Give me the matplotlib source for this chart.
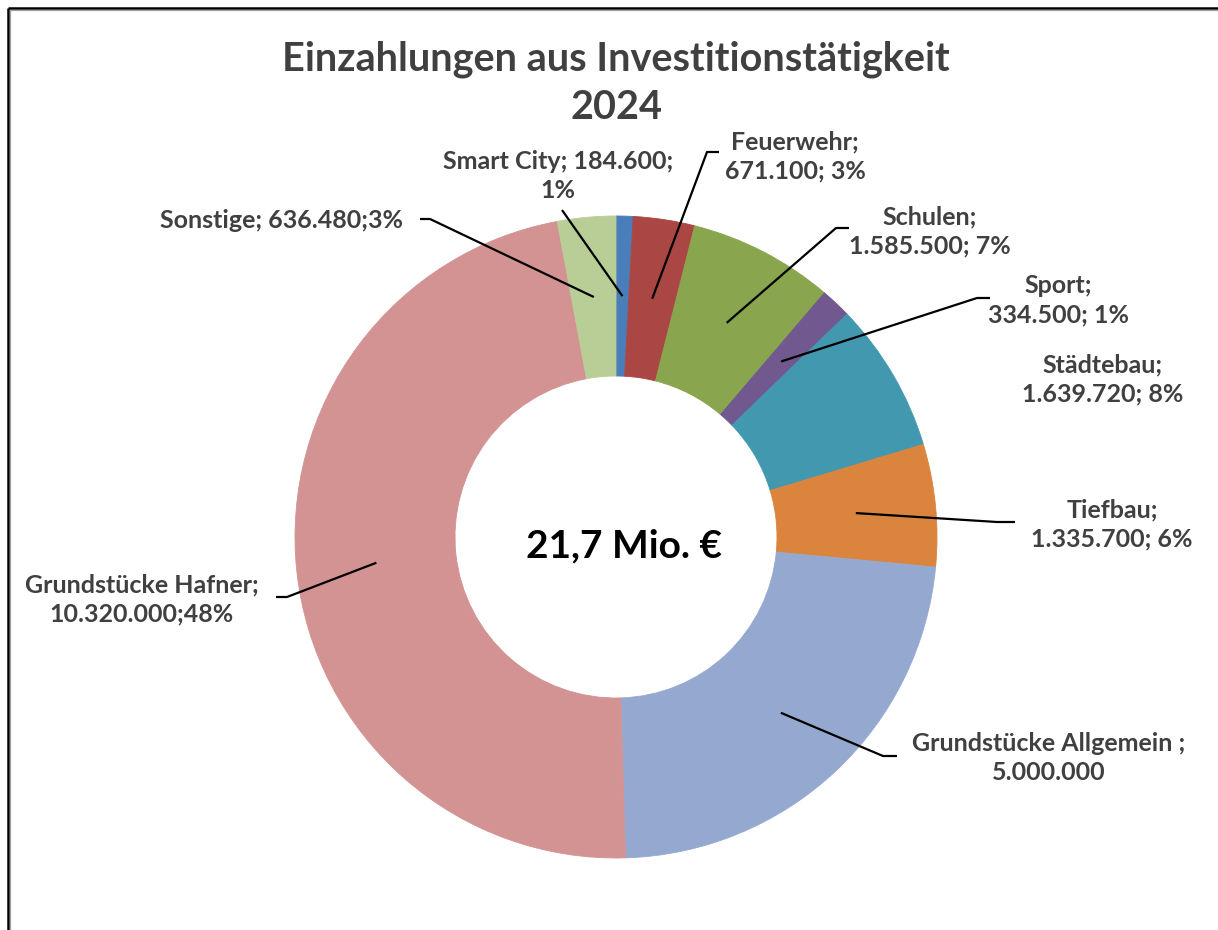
import matplotlib
matplotlib.use("Agg")
import matplotlib.pyplot as plt
import numpy as np

# ---------------- data ----------------
categories = ["Smart City", "Feuerwehr", "Schulen", "Sport", "Städtebau",
              "Tiefbau", "Grundstücke Allgemein", "Grundstücke Hafner", "Sonstige"]
values = [184600, 671100, 1585500, 334500, 1639720, 1335700, 5000000, 10320000, 636480]
label_texts = [
    "Smart City; 184.600;\n1%",
    "Feuerwehr;\n671.100; 3%",
    "Schulen;\n1.585.500; 7%",
    "Sport;\n334.500; 1%",
    "Städtebau;\n1.639.720; 8%",
    "Tiefbau;\n1.335.700; 6%",
    "Grundstücke Allgemein ;\n5.000.000",
    "Grundstücke Hafner;\n10.320.000;48%",
    "Sonstige; 636.480;3%",
]
title_lines = ["Einzahlungen aus Investitionstätigkeit", "2024"]
center_text = "21,7 Mio. €"

# ---------------- style / layout ----------------
colors = ["#4A7EBB", "#AA4643", "#89A54E", "#71588F", "#4198AF",
          "#DB843D", "#95A9D0", "#D29392", "#B9CD96"]
W, H = 1218, 930
FONT = ["Lato", "DejaVu Sans"]
TXT = "#404040"

# label centre positions (pixels, y down) and leader elbow points
label_pos = [(558, 176), (795, 156), (930, 231), (1058, 300), (1103, 379),
             (1112, 524), (1049, 758), (142, 599), (281, 221)]
elbows = [[(562, 210)], [(707, 152), (719, 152)], [(836, 228), (849, 228)],
          [(977, 298), (990, 298)], None, [(997, 522), (1015, 522)],
          [(883, 756), (897, 756)], [(287, 597), (276, 597)], [(430, 219), (420, 219)]]

cx, cy, R, ring = 616, 537, 321, 160


def P(x, y):
    return x, H - y


fig = plt.figure(figsize=(W / 100, H / 100), dpi=100)
ax = fig.add_axes([0, 0, 1, 1])

wedges, _ = ax.pie(values, colors=colors, startangle=90, counterclock=False,
                   center=P(cx, cy), radius=R,
                   wedgeprops=dict(width=ring, linewidth=0),
                   frame=True)
for w, c in zip(wedges, colors):
    w.set_edgecolor(c)
    w.set_linewidth(0.6)
ax.set_xlim(0, W)
ax.set_ylim(0, H)
ax.set_aspect("equal")
ax.axis("off")

rmid = R - ring / 2
for w, lab, pos, elb in zip(wedges, label_texts, label_pos, elbows):
    th = np.deg2rad((w.theta1 + w.theta2) / 2)
    sx, sy = w.center[0] + rmid * np.cos(th), w.center[1] + rmid * np.sin(th)
    if elb is not None:
        xs = [sx] + [P(*e)[0] for e in elb]
        ys = [sy] + [P(*e)[1] for e in elb]
        ax.plot(xs, ys, color="black", lw=1.6, solid_capstyle="butt", zorder=5)
    ax.text(*P(*pos), lab, ha="center", va="center", fontsize=18,
            fontweight="bold", color=TXT, family=FONT, linespacing=1.32, zorder=6)

ax.text(*P(616, 59), title_lines[0], ha="center", va="center", fontsize=28.5,
        fontweight="bold", color=TXT, family=FONT)
ax.text(*P(616, 108), title_lines[1], ha="center", va="center", fontsize=28.5,
        fontweight="bold", color=TXT, family=FONT)
ax.text(*P(624, 546), center_text, ha="center", va="center", fontsize=28,
        fontweight="bold", color="black", family=FONT)

# outer frame (top and left visible)
ax.plot([8, W], [H - 8, H - 8], color="black", lw=1.8, solid_capstyle="butt")
ax.plot([8, 8], [0, H - 8], color="black", lw=1.8, solid_capstyle="butt")
ax.plot([10, W], [H - 10, H - 10], color="#A0A0A0", lw=0.9)
ax.plot([10, 10], [0, H - 10], color="#A0A0A0", lw=0.9)

fig.savefig("out.png", dpi=100, facecolor="white")
